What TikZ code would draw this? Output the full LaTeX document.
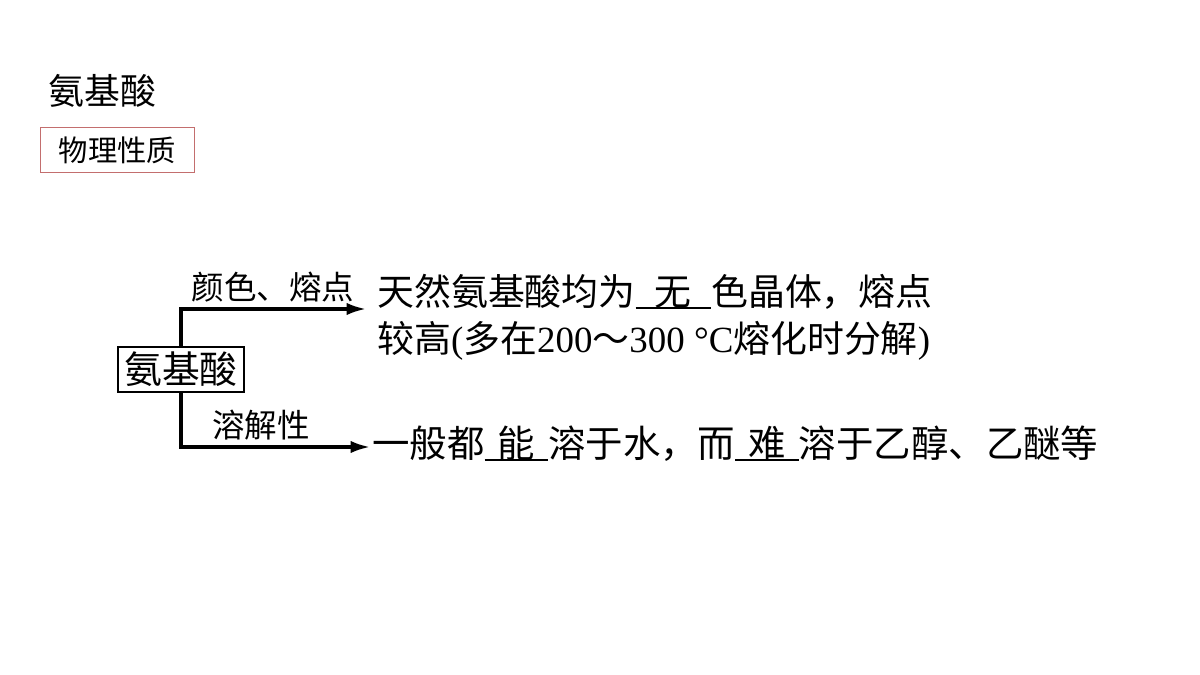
\documentclass[tikz,border=0pt]{standalone}
\usepackage{fontspec}
\setmainfont{Liberation Serif}
\newfontfamily\cjk{Noto Sans CJK SC}
\usetikzlibrary{arrows.meta}
\definecolor{boxred}{RGB}{195,110,110}
\newcommand{\myblank}[2]{\makebox[#1]{#2}\llap{\rule[-1.5pt]{#1}{1.2pt}}}
\tikzset{
  txt/.style={inner sep=0pt, font=\cjk\fontsize{21}{25}\selectfont},
  lbl/.style={inner sep=0pt, font=\cjk\fontsize{18.5}{22}\selectfont},
  conn/.style={line width=1.8pt, -{Latex[length=11pt,width=7pt]}},
}
\begin{document}
\begin{tikzpicture}[x=0.02cm,y=-0.02cm]
\useasboundingbox[fill=white] (0,0) rectangle (1200,675);
% title
\node[inner sep=0pt, anchor=west, font=\cjk\fontsize{20.4}{24}\selectfont] (title) at (48,91) {氨基酸};
\node[draw=boxred, line width=0.6pt, minimum width=3.08cm, minimum height=0.9cm, inner sep=0pt, anchor=north west, font=\cjk\fontsize{16.7}{20}\selectfont] (phys) at (40,127) {物理性质};
% main box
\node[draw, line width=1.6pt, minimum width=2.52cm, minimum height=0.9cm, inner sep=0pt, font=\cjk\fontsize{21.5}{25}\selectfont] (amino) at (181,369.5) {氨基酸};
% connector ends
\coordinate (e1) at (366,309);
\coordinate (e2) at (370,447);
\draw[conn] (amino.north) |- (e1);
\draw[conn] (amino.south) |- (e2);
% branch labels
\node[lbl] (l1) at (273,287) {颜色、熔点};
\node[lbl] (l2) at (261,425) {溶解性};
% texts
\node[txt, anchor=base west] (t1) at (377,306) {天然氨基酸均为\myblank{2.05em}{无}色晶体，熔点};
\node[txt, anchor=base west] (t2) at (377,353) {较高{\rmfamily(}多在{\rmfamily 200}～{\rmfamily 300 °C}熔化时分解{\rmfamily)}};
\node[txt, anchor=base west, font=\cjk\fontsize{21.3}{25}\selectfont] (t3) at (372,458) {一般都\myblank{1.7em}{能}溶于水，而\myblank{1.7em}{难}溶于乙醇、乙醚等};
\end{tikzpicture}
\end{document}
